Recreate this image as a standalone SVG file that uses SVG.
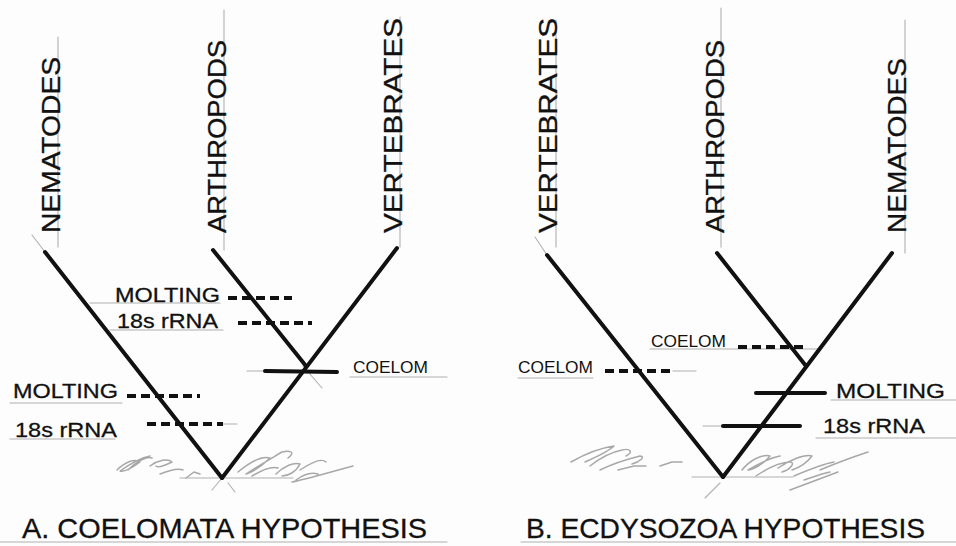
<svg xmlns="http://www.w3.org/2000/svg" width="956" height="546" viewBox="0 0 956 546">
<style>
.br{stroke:#111;stroke-width:4;stroke-linecap:round;fill:none}
.dash{stroke:#111;stroke-width:4;stroke-dasharray:9 5;fill:none}
.tick{stroke:#111;stroke-width:4;stroke-linecap:round;fill:none}
.pen{stroke:#b0b0b0;stroke-width:1.1;fill:none;stroke-linecap:round}
.scr{stroke:#a8a8a8;stroke-width:1.5;fill:none;stroke-linecap:round;stroke-linejoin:round}
.vt{font-family:"Liberation Sans","DejaVu Sans",sans-serif;font-size:25px;fill:#111;stroke:#111;stroke-width:0.3}
.lb{font-family:"Liberation Sans","DejaVu Sans",sans-serif;font-size:21px;fill:#111;stroke:#111;stroke-width:0.3}
.sm{font-family:"Liberation Sans","DejaVu Sans",sans-serif;font-size:16px;fill:#111}
.tt{font-family:"Liberation Sans","DejaVu Sans",sans-serif;font-size:28px;fill:#111;stroke:#111;stroke-width:0.3}
</style>
<rect width="956" height="546" fill="#fdfdfd"/>

<!-- pencil guide lines -->
<g id="pencil">
<line class="pen" x1="58" y1="37" x2="58" y2="247"/>
<line class="pen" x1="224" y1="10" x2="224" y2="250"/>
<line class="pen" x1="400" y1="17" x2="400" y2="247"/>
<line class="pen" x1="556" y1="20" x2="556" y2="247"/>
<line class="pen" x1="721" y1="8" x2="721" y2="247"/>
<line class="pen" x1="905" y1="20" x2="905" y2="253"/>
<line class="pen" x1="32" y1="235" x2="45" y2="252"/>
<line class="pen" x1="535" y1="237" x2="547" y2="255"/>
<line class="pen" x1="90" y1="303" x2="220" y2="303"/>
<line class="pen" x1="110" y1="330" x2="223" y2="330"/>
<line class="pen" x1="350" y1="377" x2="447" y2="377"/>
<line class="pen" x1="247" y1="371" x2="265" y2="371"/>
<line class="pen" x1="10" y1="403" x2="122" y2="403"/>
<line class="pen" x1="10" y1="439" x2="115" y2="439"/>
<line class="pen" x1="223" y1="424" x2="237" y2="424"/>
<line class="pen" x1="0" y1="542" x2="447" y2="542"/>
<line class="pen" x1="521" y1="542" x2="956" y2="542"/>
<line class="pen" x1="650" y1="349" x2="818" y2="349"/>
<line class="pen" x1="518" y1="378" x2="593" y2="378"/>
<line class="pen" x1="673" y1="371" x2="696" y2="371"/>
<line class="pen" x1="831" y1="400" x2="956" y2="400"/>
<line class="pen" x1="816" y1="438" x2="956" y2="438"/>
<line class="pen" x1="703" y1="426" x2="723" y2="426"/>
<line class="pen" x1="180" y1="478" x2="293" y2="478"/>
<line class="pen" x1="212" y1="490" x2="222" y2="478"/>
<line class="pen" x1="228" y1="483" x2="235" y2="492"/>
<line class="pen" x1="692" y1="477" x2="793" y2="477"/>
<line class="pen" x1="705" y1="498" x2="720" y2="483"/>
<line class="pen" x1="303" y1="366" x2="322" y2="388"/>
</g>

<!-- pencil scribbles -->
<g id="scribbles">
<path class="scr" d="M117 470 C125 462 135 458 140 462 C132 468 124 472 120 471 C130 464 140 458 150 456 M128 470 C136 462 146 456 152 458 M150 466 C158 460 168 458 172 462 C164 466 158 468 156 466 M160 474 C170 470 178 468 183 470 M186 478 L194 472 L200 474"/>
<path class="scr" d="M238 472 C250 462 262 456 270 458 C262 466 252 472 246 474 C258 466 272 458 282 452 C290 450 296 452 288 458 M252 476 C262 470 272 466 278 468 M276 474 C284 466 294 462 300 464 C296 472 288 476 282 476 M300 470 C312 462 322 458 326 462 M292 482 C310 478 330 472 353 466 M296 480 C304 474 312 472 318 474"/>
<path class="scr" d="M571 462 C585 454 600 448 614 446 C608 452 594 458 585 462 M590 466 C600 458 612 452 622 450 C630 448 634 452 626 456 M600 470 C612 464 624 460 640 456 C646 456 640 462 632 464 M618 470 L634 466 L646 466 M660 466 L672 462 L682 462"/>
<path class="scr" d="M742 470 C750 460 762 454 770 456 C764 464 752 470 748 470 C758 464 770 458 780 456 M756 476 C768 468 780 462 790 462 C796 462 790 470 782 472 M778 468 C790 460 804 454 812 456 C806 464 798 468 792 470 M794 476 C808 470 822 464 834 462 M804 480 L822 474 L830 472 M820 470 C834 464 850 458 868 452 M790 490 C806 484 822 478 838 472"/>
</g>

<!-- connectors: tree branches -->
<g id="connectors">
<line class="br" x1="45" y1="252" x2="222" y2="478"/>
<line class="br" x1="397" y1="248" x2="222" y2="478"/>
<line class="br" x1="213" y1="250" x2="306" y2="366"/>
<line class="br" x1="547" y1="255" x2="723" y2="477"/>
<line class="br" x1="892" y1="253" x2="723" y2="477"/>
<line class="br" x1="717" y1="253" x2="806" y2="366"/>
</g>

<!-- character markers -->
<g id="markers">
<line class="dash" x1="228" y1="298" x2="292" y2="298"/>
<line class="dash" x1="238" y1="323" x2="312" y2="323"/>
<line class="dash" x1="127" y1="396" x2="200" y2="396"/>
<line class="dash" x1="147" y1="424" x2="223" y2="424"/>
<line class="tick" x1="265" y1="371" x2="337" y2="372"/>
<line class="dash" x1="738" y1="347" x2="808" y2="347"/>
<line class="dash" x1="605" y1="371" x2="673" y2="371"/>
<line class="tick" x1="756" y1="393" x2="825" y2="393"/>
<line class="tick" x1="723" y1="426" x2="800" y2="426"/>
</g>

<!-- taxa nodes: tree A -->
<g id="a-nematodes"><text class="vt" transform="translate(60,233) rotate(-90)" textLength="176" lengthAdjust="spacingAndGlyphs">NEMATODES</text></g>
<g id="a-arthropods"><text class="vt" transform="translate(226,233) rotate(-90)" textLength="193" lengthAdjust="spacingAndGlyphs">ARTHROPODS</text></g>
<g id="a-vertebrates"><text class="vt" transform="translate(402,233) rotate(-90)" textLength="215" lengthAdjust="spacingAndGlyphs">VERTEBRATES</text></g>
<!-- taxa nodes: tree B -->
<g id="b-vertebrates"><text class="vt" transform="translate(557,233) rotate(-90)" textLength="215" lengthAdjust="spacingAndGlyphs">VERTEBRATES</text></g>
<g id="b-arthropods"><text class="vt" transform="translate(724,233) rotate(-90)" textLength="193" lengthAdjust="spacingAndGlyphs">ARTHROPODS</text></g>
<g id="b-nematodes"><text class="vt" transform="translate(906,233) rotate(-90)" textLength="175" lengthAdjust="spacingAndGlyphs">NEMATODES</text></g>

<!-- character labels tree A -->
<g id="a-molting-1"><text class="lb" x="115" y="302" textLength="105" lengthAdjust="spacingAndGlyphs">MOLTING</text></g>
<g id="a-18s-1"><text class="lb" x="117" y="328" textLength="101" lengthAdjust="spacingAndGlyphs">18s rRNA</text></g>
<g id="a-coelom"><text class="sm" x="353" y="373" textLength="75" lengthAdjust="spacingAndGlyphs">COELOM</text></g>
<g id="a-molting-2"><text class="lb" x="13" y="398" textLength="105" lengthAdjust="spacingAndGlyphs">MOLTING</text></g>
<g id="a-18s-2"><text class="lb" x="15" y="437" textLength="102" lengthAdjust="spacingAndGlyphs">18s rRNA</text></g>
<g id="a-title"><text class="tt" x="22" y="538" textLength="405" lengthAdjust="spacingAndGlyphs">A. COELOMATA HYPOTHESIS</text></g>

<!-- character labels tree B -->
<g id="b-coelom-1"><text class="sm" x="651" y="347" textLength="75" lengthAdjust="spacingAndGlyphs">COELOM</text></g>
<g id="b-coelom-2"><text class="sm" x="518" y="373" textLength="75" lengthAdjust="spacingAndGlyphs">COELOM</text></g>
<g id="b-molting"><text class="lb" x="836" y="398" textLength="109" lengthAdjust="spacingAndGlyphs">MOLTING</text></g>
<g id="b-18s"><text class="lb" x="823" y="433" textLength="102" lengthAdjust="spacingAndGlyphs">18s rRNA</text></g>
<g id="b-title"><text class="tt" x="526" y="538" textLength="399" lengthAdjust="spacingAndGlyphs">B. ECDYSOZOA HYPOTHESIS</text></g>
</svg>
